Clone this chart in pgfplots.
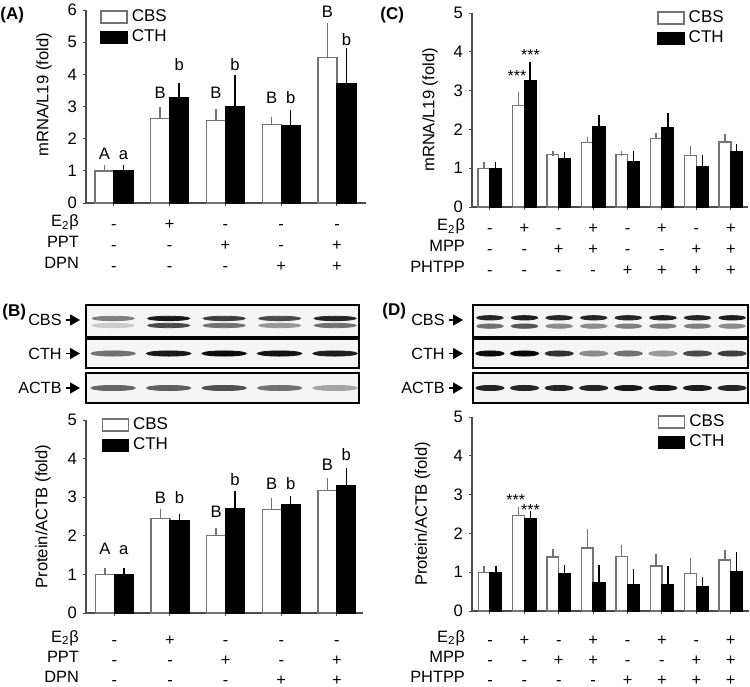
\documentclass[border=0pt]{standalone}
\usepackage{pgfplots}
\usepackage{pgfplotstable}
\pgfplotsset{compat=1.18}
\usepackage{fontspec}
\setmainfont{Liberation Sans}
\usetikzlibrary{arrows.meta}

\newcommand\fs[2]{\fontsize{#1}{#2}\selectfont}
\newcommand\tl[3]{\strut #1\\#2\\#3}

% (A) mRNA, ER agonists
\pgfplotstableread{
x cbs cbse cth cthe
1 1.00 0.10 1.00 0.10
2 2.62 0.27 3.26 0.39
3 2.57 0.25 2.98 0.92
4 2.44 0.16 2.40 0.41
5 4.52 0.98 3.72 1.02
}\tabA
% (B) protein, ER agonists
\pgfplotstableread{
x cbs cbse cth cthe
1 0.99 0.10 0.99 0.10
2 2.45 0.18 2.38 0.11
3 2.01 0.12 2.69 0.41
4 2.68 0.23 2.80 0.17
5 3.17 0.26 3.30 0.39
}\tabB
% (C) mRNA, ER antagonists
\pgfplotstableread{
x cbs cbse cth cthe
1 1.00 0.10 1.00 0.10
2 2.61 0.27 3.26 0.41
3 1.35 0.03 1.25 0.09
4 1.67 0.07 2.06 0.23
5 1.35 0.03 1.18 0.19
6 1.77 0.07 2.04 0.32
7 1.32 0.18 1.05 0.22
8 1.68 0.12 1.43 0.13
}\tabC
% (D) protein, ER antagonists
\pgfplotstableread{
x cbs cbse cth cthe
1 1.00 0.10 1.00 0.10
2 2.46 0.16 2.38 0.12
3 1.39 0.13 0.95 0.16
4 1.62 0.41 0.73 0.38
5 1.41 0.23 0.69 0.33
6 1.16 0.24 0.69 0.41
7 0.96 0.34 0.63 0.18
8 1.31 0.20 1.01 0.43
}\tabD

\pgfplotsset{
  colormap={blot}{gray(0cm)=(1); gray(1cm)=(0)},
  panel/.style={
    scale only axis, anchor=south west, clip=false,
    ybar, bar width=0.34,
    axis lines*=left,
    axis line style={black!70, line width=0.6pt},
    ymin=0, ytick distance=1,
    tick align=outside, major tick length=1.5pt,
    tick style={black!70, line width=0.5pt},
    /pgf/number format/assume math mode=true,
    yticklabel style={font=\fs{8.3}{9}, xshift=0.5pt},
    xticklabel style={font=\fs{8.2}{10.5}, align=center, anchor=north, yshift=-1pt},
    extra x tick style={major tick length=0pt,
      xticklabel style={anchor=north east, align=right}},
    legend cell align=left,
    legend style={draw=none, fill=none, font=\fs{8.5}{9}, anchor=north west,
      inner sep=0pt, row sep=-1.3pt},
    legend image code/.code={\draw[#1] (0pt,-3pt) rectangle (13pt,3pt);},
    ylabel style={font=\fs{8.3}{9}, anchor=center},
  },
  cbs/.style={draw=black!55, fill=white, line width=0.7pt, bar shift=-0.17,
    error bars/y dir=plus, error bars/y explicit,
    error bars/error bar style={black!55, line width=0.7pt},
    error bars/error mark options={black!55, mark size=1.4pt, line width=0.7pt}},
  cth/.style={draw=black, fill=black, line width=0.7pt, bar shift=0.17,
    error bars/y dir=plus, error bars/y explicit,
    error bars/error bar style={black, line width=0.7pt},
    error bars/error mark options={black, mark size=1.4pt, line width=0.7pt}},
  blot/.style={scale only axis, anchor=south west, ymin=0, ymax=1,
    xtick=\empty, ytick=\empty, axis line style={line width=0.9pt},
    axis background/.style={fill=black!4},
    colormap name=blot, point meta min=0, point meta max=1},
  band/.style={scatter, only marks, mark=*, mark size=#1, point meta=explicit,
    scatter/use mapped color={draw=mapped color, fill=mapped color}},
}
\tikzset{lt/.style={font=\fs{8.3}{9}, anchor=base, inner sep=0pt},
  st/.style={font=\fs{8}{9}, anchor=base, inner sep=0pt},
  blab/.style={anchor=east, inner sep=0pt, font=\fs{8.1}{9}},
  plab/.style={anchor=west, inner sep=0pt, font=\fs{8.5}{9}\bfseries},
  barr/.style={-{Triangle[length=5pt,width=5.5pt]}, line width=0.8pt}}

\begin{document}
\begin{tikzpicture}

% ---------- (A)
\begin{axis}[panel, at={(43pt,-101.5pt)}, width=140pt, height=96.5pt,
  xmin=0.5, xmax=5.52, ymax=6,
  xtick={1,...,5},
  xticklabels={{\tl{-}{-}{-}},{\tl{+}{-}{-}},{\tl{-}{+}{-}},{\tl{-}{-}{+}},{\tl{-}{+}{+}}},
  extra x ticks={0.5},
  extra x tick labels={{\strut E\textsubscript{2}β\\PPT\\DPN}},
  ylabel={mRNA/L19 (fold)},
  ylabel style={at={(axis description cs:-0.15,0.56)}},
  legend style={at={(axis description cs:0.05,1.025)}}]
\addplot[cbs] table[x=x, y=cbs, y error=cbse] {\tabA};
\addplot[cth] table[x=x, y=cth, y error=cthe] {\tabA};
\legend{CBS, CTH}
\node[lt] at (axis cs:0.83,1.34) {A};
\node[lt] at (axis cs:1.17,1.34) {a};
\node[lt] at (axis cs:1.83,3.24) {B};
\node[lt] at (axis cs:2.17,4.11) {b};
\node[lt] at (axis cs:2.83,3.24) {B};
\node[lt] at (axis cs:3.17,4.11) {b};
\node[lt] at (axis cs:3.83,3.08) {B};
\node[lt] at (axis cs:4.17,3.08) {b};
\node[lt] at (axis cs:4.83,5.77) {B};
\node[lt] at (axis cs:5.17,4.89) {b};
\end{axis}

% ---------- (C)
\begin{axis}[panel, at={(236pt,-103.5pt)}, width=138pt, height=97pt,
  xmin=0.48, xmax=8.5, ymax=5,
  xtick={1,...,8},
  xticklabels={{\tl{-}{-}{-}},{\tl{+}{-}{-}},{\tl{-}{+}{-}},{\tl{+}{+}{-}},
    {\tl{-}{-}{+}},{\tl{+}{-}{+}},{\tl{-}{+}{+}},{\tl{+}{+}{+}}},
  extra x ticks={0.48},
  extra x tick labels={{\strut E\textsubscript{2}β\\MPP\\PHTPP}},
  ylabel={mRNA/L19 (fold)},
  ylabel style={at={(axis description cs:-0.152,0.5)}},
  legend style={at={(axis description cs:0.67,1.035)}}]
\addplot[cbs] table[x=x, y=cbs, y error=cbse] {\tabC};
\addplot[cth] table[x=x, y=cth, y error=cthe] {\tabC};
\legend{CBS, CTH}
\node[st] at (axis cs:1.79,3.23) {***};
\node[st] at (axis cs:2.18,3.77) {***};
\end{axis}

% ---------- (B) blots
\begin{axis}[blot, at={(43pt,-168.5pt)}, width=136.5pt, height=16pt, xmin=0.51, xmax=5.43]
\addplot[band=1.1pt, mark options={xscale=9.5}] table[meta=v] {
x y v
1 0.58 0.50
2 0.58 0.90
3 0.58 0.75
4 0.58 0.70
5 0.58 0.85
1 0.36 0.20
2 0.36 0.70
3 0.36 0.55
4 0.36 0.40
5 0.36 0.55
};
\end{axis}
\begin{axis}[blot, at={(43pt,-184pt)}, width=136.5pt, height=14.5pt, xmin=0.51, xmax=5.43]
\addplot[band=1.3pt, mark options={xscale=8.5}] table[meta=v] {
x y v
1 0.50 0.55
2 0.50 0.90
3 0.50 0.95
4 0.50 0.92
5 0.50 0.88
};
\end{axis}
\begin{axis}[blot, at={(43pt,-201.5pt)}, width=136.5pt, height=15pt, xmin=0.51, xmax=5.43]
\addplot[band=1.3pt, mark options={xscale=8.5}] table[meta=v] {
x y v
1 0.50 0.60
2 0.50 0.62
3 0.50 0.68
4 0.50 0.55
5 0.50 0.35
};
\end{axis}
\node[blab] at (31pt,-160pt) {CBS};
\node[blab] at (31pt,-176.75pt) {CTH};
\node[blab] at (31pt,-194pt) {ACTB};
\draw[barr] (33pt,-160pt) -- (40pt,-160pt);
\draw[barr] (33pt,-176.75pt) -- (40pt,-176.75pt);
\draw[barr] (33pt,-194pt) -- (40pt,-194pt);

% ---------- (D) blots
\begin{axis}[blot, at={(236.5pt,-168.5pt)}, width=137.5pt, height=16pt, xmin=0.51, xmax=8.46]
\addplot[band=1.1pt, mark options={xscale=6}] table[meta=v] {
x y v
1 0.60 0.85
2 0.60 0.88
3 0.60 0.85
4 0.60 0.85
5 0.60 0.85
6 0.60 0.88
7 0.60 0.85
8 0.60 0.88
1 0.34 0.55
2 0.34 0.65
3 0.34 0.45
4 0.34 0.45
5 0.34 0.50
6 0.34 0.50
7 0.34 0.50
8 0.34 0.45
};
\end{axis}
\begin{axis}[blot, at={(236.5pt,-184pt)}, width=137.5pt, height=14.5pt, xmin=0.51, xmax=8.46]
\addplot[band=1.3pt, mark options={xscale=5.4}] table[meta=v] {
x y v
1 0.50 0.95
2 0.50 0.97
3 0.50 0.80
4 0.50 0.45
5 0.50 0.55
6 0.50 0.40
7 0.50 0.70
8 0.50 0.75
};
\end{axis}
\begin{axis}[blot, at={(236.5pt,-201.5pt)}, width=137.5pt, height=15pt, xmin=0.51, xmax=8.46]
\addplot[band=1.3pt, mark options={xscale=5.4}] table[meta=v] {
x y v
1 0.50 0.85
2 0.50 0.85
3 0.50 0.85
4 0.50 0.85
5 0.50 0.90
6 0.50 0.90
7 0.50 0.88
8 0.50 0.85
};
\end{axis}
\node[blab] at (222.5pt,-160pt) {CBS};
\node[blab] at (222.5pt,-176.75pt) {CTH};
\node[blab] at (222.5pt,-194pt) {ACTB};
\draw[barr] (224.5pt,-160pt) -- (231.5pt,-160pt);
\draw[barr] (224.5pt,-176.75pt) -- (231.5pt,-176.75pt);
\draw[barr] (224.5pt,-194pt) -- (231.5pt,-194pt);

% ---------- (B) bars
\begin{axis}[panel, at={(43pt,-306.5pt)}, width=138.5pt, height=96.5pt,
  xmin=0.49, xmax=5.47, ymax=5,
  xtick={1,...,5},
  xticklabel style={font=\fs{8.2}{10}, yshift=-3pt},
  xticklabels={{\tl{-}{-}{-}},{\tl{+}{-}{-}},{\tl{-}{+}{-}},{\tl{-}{-}{+}},{\tl{-}{+}{+}}},
  extra x ticks={0.49},
  extra x tick labels={{\strut E\textsubscript{2}β\\PPT\\DPN}},
  ylabel={Protein/ACTB (fold)},
  ylabel style={at={(axis description cs:-0.155,0.5)}},
  legend style={at={(axis description cs:0.055,1.035)}}]
\addplot[cbs] table[x=x, y=cbs, y error=cbse] {\tabB};
\addplot[cth] table[x=x, y=cth, y error=cthe] {\tabB};
\legend{CBS, CTH}
\node[lt] at (axis cs:0.83,1.52) {A};
\node[lt] at (axis cs:1.17,1.52) {a};
\node[lt] at (axis cs:1.83,2.84) {B};
\node[lt] at (axis cs:2.17,2.84) {b};
\node[lt] at (axis cs:2.83,2.47) {B};
\node[lt] at (axis cs:3.17,3.31) {b};
\node[lt] at (axis cs:3.83,3.21) {B};
\node[lt] at (axis cs:4.17,3.21) {b};
\node[lt] at (axis cs:4.83,3.70) {B};
\node[lt] at (axis cs:5.17,3.94) {b};
\end{axis}

% ---------- (D) bars
\begin{axis}[panel, at={(236pt,-305.5pt)}, width=138.5pt, height=97pt,
  xmin=0.477, xmax=8.53, ymax=5,
  xtick={1,...,8},
  xticklabel style={font=\fs{8.2}{10}, yshift=-4pt},
  xticklabels={{\tl{-}{-}{-}},{\tl{+}{-}{-}},{\tl{-}{+}{-}},{\tl{+}{+}{-}},
    {\tl{-}{-}{+}},{\tl{+}{-}{+}},{\tl{-}{+}{+}},{\tl{+}{+}{+}}},
  extra x ticks={0.477},
  extra x tick labels={{\strut E\textsubscript{2}β\\MPP\\PHTPP}},
  ylabel={Protein/ACTB (fold)},
  ylabel style={at={(axis description cs:-0.178,0.5)}},
  legend style={at={(axis description cs:0.67,1.035)}}]
\addplot[cbs] table[x=x, y=cbs, y error=cbse] {\tabD};
\addplot[cth] table[x=x, y=cth, y error=cthe] {\tabD};
\legend{CBS, CTH}
\node[st] at (axis cs:1.75,2.71) {***};
\node[st] at (axis cs:2.18,2.46) {***};
\end{axis}

% panel letters
\node[plab] at (0pt,-7.5pt) {(A)};
\node[plab] at (190pt,-7.5pt) {(C)};
\node[plab] at (1pt,-156pt) {(B)};
\node[plab] at (191pt,-155.5pt) {(D)};

\pgfresetboundingbox
\useasboundingbox (0pt,0pt) rectangle (375pt,-343pt);
\end{tikzpicture}
\end{document}
